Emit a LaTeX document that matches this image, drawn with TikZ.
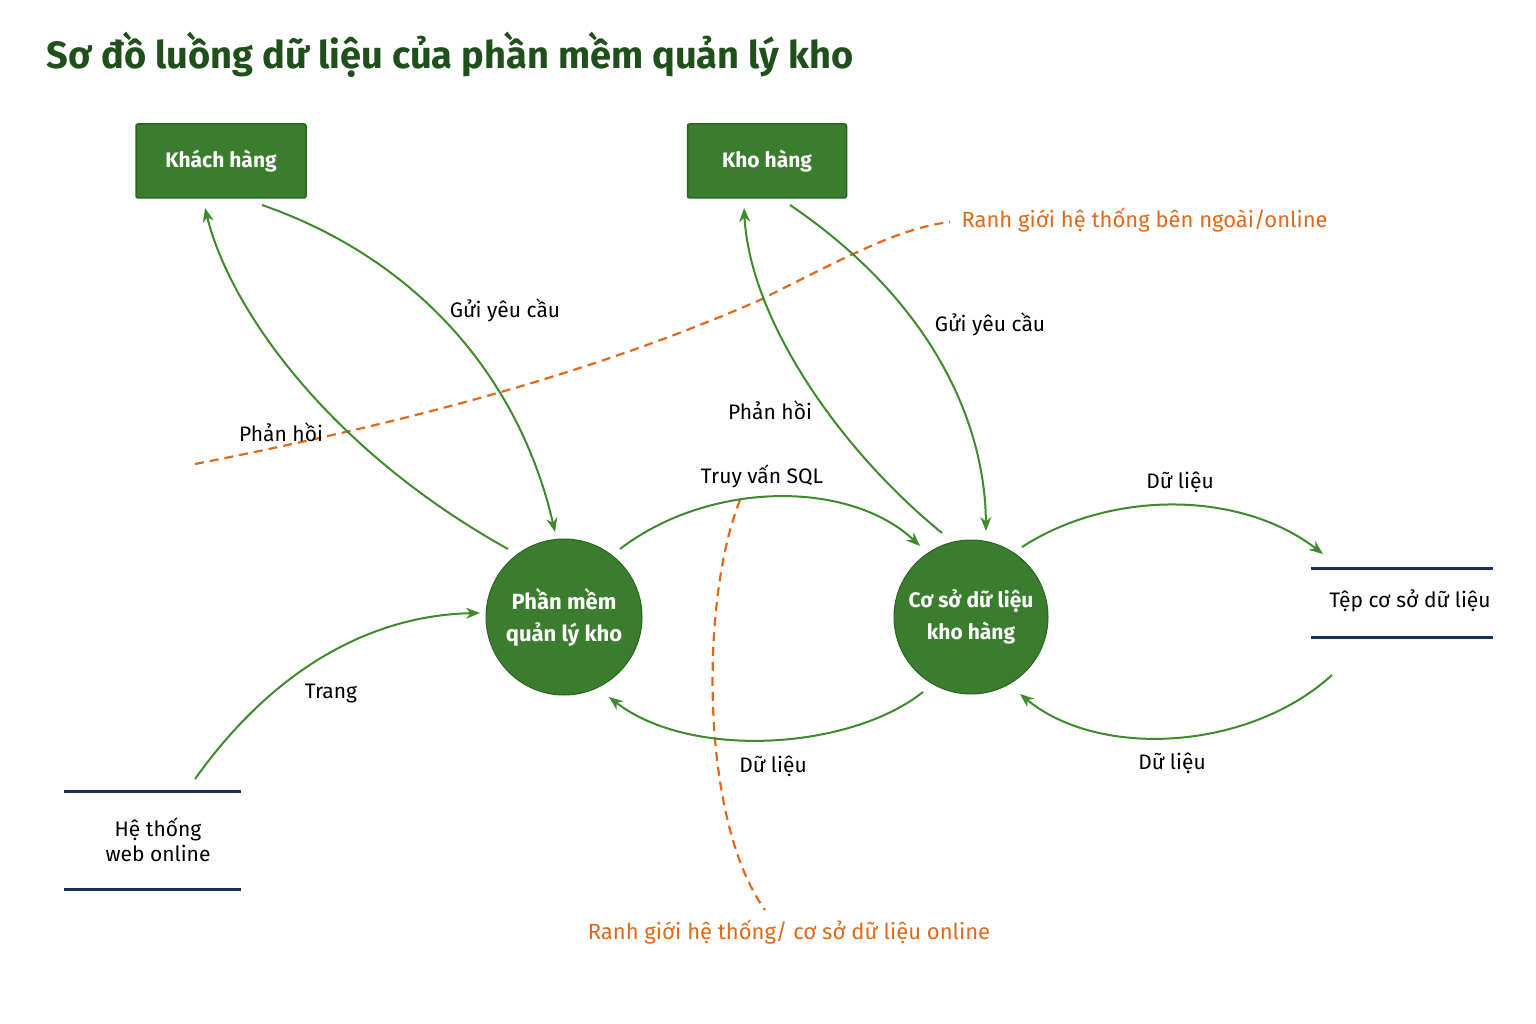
\documentclass[tikz,border=0pt]{standalone}
\usepackage{fontspec}
\setmainfont{Fira Sans}
\usetikzlibrary{arrows.meta}
\definecolor{dg}{HTML}{1F4F1A}
\definecolor{gf}{HTML}{3B7D2E}
\definecolor{gb}{HTML}{2B6420}
\definecolor{ga}{HTML}{3E8A2C}
\definecolor{og}{HTML}{E0691A}
\definecolor{nv}{HTML}{1C2E5A}
\begin{document}
\begin{tikzpicture}[x=1pt,y=-1pt,
  ent/.style={draw=gb,line width=1.5pt,fill=gf,text=white,font=\fontsize{21}{24}\selectfont\bfseries,rounded corners=2pt,inner sep=0pt},
  proc/.style={circle,draw=gb,line width=1pt,fill=gf,text=white,align=center,inner sep=0pt,font=\fontsize{22}{32}\selectfont\bfseries},
  flow/.style={draw=ga,line width=2pt,-{Stealth[length=14pt,width=11pt]}},
  lbl/.style={font=\fontsize{21}{25}\selectfont,text=black},
  bnd/.style={draw=og,line width=2.2pt,dash pattern=on 9pt off 6pt},
  store/.style={draw=nv,line width=3pt},
  olbl/.style={font=\fontsize{22}{26}\selectfont,text=og}]
\useasboundingbox (0,0) rectangle (1536,1024);
\fill[white] (0,0) rectangle (1536,1024);
\node[anchor=west,text=dg,font=\fontsize{38}{44}\selectfont\bfseries] (title) at (43,55) {Sơ đồ luồng dữ liệu của phần mềm quản lý kho};
\node[ent,minimum width=170pt,minimum height=74pt] (kh) at (221,161) {Khách hàng};
\node[ent,minimum width=159pt,minimum height=74pt] (kho) at (767,161) {Kho hàng};
\node[proc,minimum size=156pt] (pm) at (564,617) {Phần mềm\\quản lý kho};
\node[proc,minimum size=154pt,font=\fontsize{21}{32}\selectfont\bfseries] (db) at (971,617) {Cơ sở dữ liệu\\kho hàng};
% stores
\coordinate (t1) at (1311,568); \coordinate (t2) at (1493,568);
\coordinate (t3) at (1311,637); \coordinate (t4) at (1493,637);
\draw[store] (t1) -- (t2); \draw[store] (t3) -- (t4);
\node[lbl] (tep) at (1410,601) {Tệp cơ sở dữ liệu};
\coordinate (w1) at (64,791); \coordinate (w2) at (241,791);
\coordinate (w3) at (64,889); \coordinate (w4) at (241,889);
\draw[store] (w1) -- (w2); \draw[store] (w3) -- (w4);
\node[lbl,align=center] (web) at (158,840) {Hệ thống\\web online};
% boundaries
\coordinate (b1) at (195,464); \coordinate (b2) at (950,222);
\draw[bnd] (b1) .. controls (420,420) and (600,370) .. (760,300) .. controls (850,255) and (900,228) .. (b2);
\node[olbl,anchor=west] (bl1) at (958,220) {Ranh giới hệ thống bên ngoài/online};
\coordinate (c1) at (740,500); \coordinate (c2) at (765,910);
\draw[bnd] (c1) .. controls (700,600) and (700,820) .. (c2);
\node[olbl] (bl2) at (789,932) {Ranh giới hệ thống/ cơ sở dữ liệu online};
% flows
\coordinate (k1) at (262,205); \coordinate (k2) at (205,208);
\coordinate (p1) at (555,532); \coordinate (p2) at (508,549);
\draw[flow] (k1) .. controls (420,260) and (520,380) .. (p1);
\draw[flow] (p2) .. controls (330,450) and (230,310) .. (k2);
\node[lbl] (l1) at (505,310) {Gửi yêu cầu};
\node[lbl] (l2) at (281,432) {Phản hồi};
\coordinate (h1) at (790,205); \coordinate (h2) at (744,208);
\coordinate (d1) at (986,531); \coordinate (d2) at (942,533);
\draw[flow] (h1) .. controls (930,300) and (985,420) .. (d1);
\draw[flow] (d2) .. controls (840,450) and (750,320) .. (h2);
\node[lbl] (l3) at (990,324) {Gửi yêu cầu};
\node[lbl] (l4) at (770,410) {Phản hồi};
\coordinate (s1) at (620,549); \coordinate (s2) at (920,546);
\draw[flow] (s1) .. controls (710,480) and (850,480) .. (s2);
\node[lbl] (l5) at (762,476) {Truy vấn SQL};
\coordinate (r1) at (923,692); \coordinate (r2) at (609,697);
\draw[flow] (r1) .. controls (850,750) and (690,760) .. (r2);
\node[lbl] (l6) at (773,766) {Dữ liệu};
\coordinate (e1) at (1022,547); \coordinate (e2) at (1323,554);
\draw[flow] (e1) .. controls (1110,490) and (1240,490) .. (e2);
\node[lbl] (l7) at (1180,482) {Dữ liệu};
\coordinate (f1) at (1332,675); \coordinate (f2) at (1020,694);
\draw[flow] (f1) .. controls (1250,750) and (1100,760) .. (f2);
\node[lbl] (l8) at (1172,763) {Dữ liệu};
\coordinate (g1) at (195,779); \coordinate (g2) at (480,613);
\draw[flow] (g1) .. controls (280,660) and (380,615) .. (g2);
\node[lbl] (l9) at (331,693) {Trang};
\end{tikzpicture}
\end{document}
